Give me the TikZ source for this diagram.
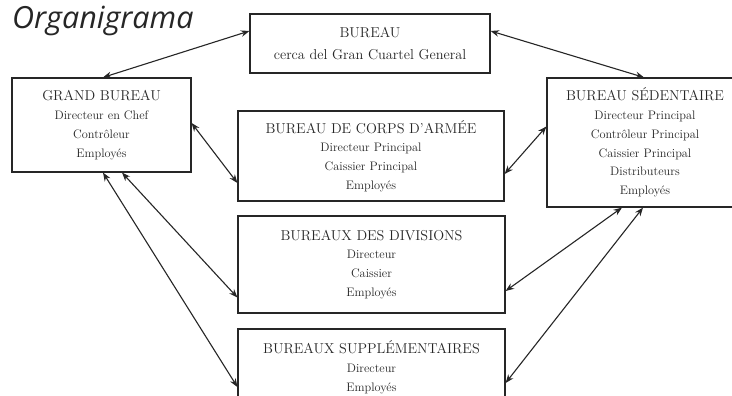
\documentclass[tikz,border=0pt]{standalone}
\usepackage{fontspec}
\newfontfamily\titlefont{Open Sans}
\usetikzlibrary{arrows.meta}
\definecolor{linec}{HTML}{262626}
\definecolor{textc}{HTML}{262626}
\tikzset{
  box/.style={draw=linec, line width=1.2pt, align=center, inner sep=0pt,
    text=textc, font=\fontsize{12.3}{18.8}\selectfont},
  conn/.style={{Stealth[length=8.5pt,width=6.5pt]}-{Stealth[length=8.5pt,width=6.5pt]},
    line width=1.1pt, draw=linec},
  title/.style={anchor=base west, inner sep=0pt, text=black!85,
    font=\titlefont\itshape\fontsize{30.5}{33}\selectfont}
}
\newcommand{\hd}[1]{{\fontsize{14.3}{18.8}\selectfont #1}}
\begin{document}
\begin{tikzpicture}[x=1pt,y=-1pt]
\useasboundingbox (0,0) rectangle (732,396);
\clip (0,0) rectangle (732,396);
\fill[white] (0,0) rectangle (732,396);

\node[title] (title) at (12,28.5) {Organigrama};

\node[box, minimum width=240pt, minimum height=59pt, font=\fontsize{14.3}{22}\selectfont]
  (bureau) at (370,43.5) {BUREAU\\cerca del Gran Cuartel General};

\node[box, minimum width=179pt, minimum height=94pt] (grand) at (101.5,125)
  {\hd{GRAND BUREAU}\\Directeur en Chef\\Contrôleur\\Employés};

\node[box, minimum width=266pt, minimum height=90pt] (corps) at (371,156)
  {\hd{BUREAU DE CORPS D'ARMÉE}\\Directeur Principal\\Caissier Principal\\Employés};

\node[box, minimum width=196pt, minimum height=129pt] (sed) at (645,142.5)
  {\hd{BUREAU SÉDENTAIRE}\\Directeur Principal\\Contrôleur Principal\\Caissier Principal\\Distributeurs\\Employés};

\node[box, minimum width=267pt, minimum height=97pt] (div) at (371.5,264.5)
  {\hd{BUREAUX DES DIVISIONS}\\Directeur\\Caissier\\Employés};

\node[box, minimum width=267pt, minimum height=77pt] (sup) at (371.5,367.5)
  {\hd{BUREAUX SUPPLÉMENTAIRES}\\Directeur\\Employés};

\draw[conn] ([yshift=12.5pt]bureau.west) -- ([xshift=1.5pt]grand.north);
\draw[conn] ([yshift=12.5pt]bureau.east) -- ([xshift=-1pt]sed.north);
\draw[conn] ([yshift=2pt]grand.east) -- ([yshift=-27pt]corps.west);
\draw[conn] ([xshift=20.5pt]grand.south) -- ([yshift=-33pt]div.west);
\draw[conn] ([xshift=1.5pt]grand.south) -- ([yshift=-19.5pt]sup.west);
\draw[conn] ([yshift=16pt]sed.west) -- ([yshift=-18pt]corps.east);
\draw[conn] ([xshift=-23pt]sed.south) -- ([yshift=-26.5pt]div.east);
\draw[conn] ([xshift=-2pt]sed.south) -- ([yshift=-15.5pt]sup.east);
\end{tikzpicture}
\end{document}
